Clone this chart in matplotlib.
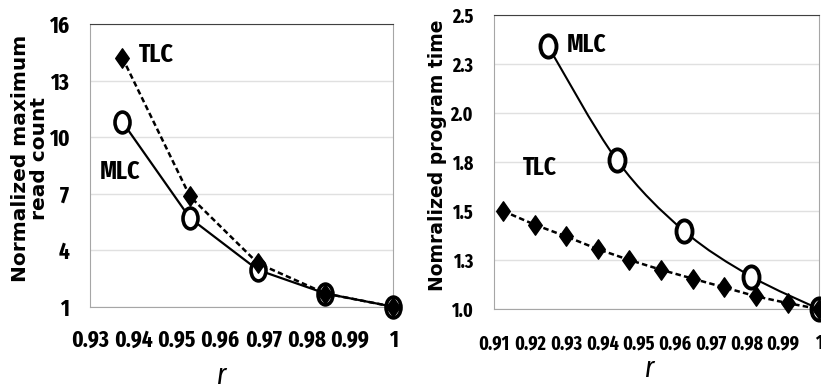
import numpy as np
import matplotlib.pyplot as plt
from matplotlib.path import Path
from matplotlib.patches import PathPatch
from matplotlib import font_manager

# --- data ---
# left panel: normalized maximum read count vs r
r_left = [0.9375, 0.9531, 0.9688, 0.9844, 1.0]
read_tlc = [14.2, 6.85, 3.3, 1.7, 1.0]
read_mlc = [10.8, 5.7, 2.95, 1.7, 1.0]
left_xticks = [0.93, 0.94, 0.95, 0.96, 0.97, 0.98, 0.99, 1.0]
left_xlabels = ["0.93", "0.94", "0.95", "0.96", "0.97", "0.98", "0.99", "1"]
left_yticks = [1, 4, 7, 10, 13, 16]

# right panel: normalized program time vs r
r_tlc = [0.9125, 0.9213, 0.93, 0.9388, 0.9475, 0.9563, 0.965, 0.9738, 0.9825, 0.9913, 1.0]
prog_tlc = [1.5, 1.43, 1.37, 1.305, 1.25, 1.2, 1.155, 1.11, 1.065, 1.03, 1.0]
r_mlc = [0.925, 0.944, 0.9625, 0.9813, 1.0]
prog_mlc = [2.34, 1.76, 1.40, 1.165, 1.0]
right_xticks = [0.91, 0.92, 0.93, 0.94, 0.95, 0.96, 0.97, 0.98, 0.99, 1.0]
right_xlabels = ["0.91", "0.92", "0.93", "0.94", "0.95", "0.96", "0.97", "0.98", "0.99", "1"]
right_yticks = [1.0, 1.25, 1.5, 1.75, 2.0, 2.25, 2.5]
right_ylabels = ["1.0", "1.3", "1.5", "1.8", "2.0", "2.3", "2.5"]

# pick a narrow font that is actually installed
names = {f.name for f in font_manager.fontManager.ttflist}
narrow = "DejaVu Sans"
for cand in ["Fira Sans Extra Condensed", "Roboto Condensed", "Fira Sans Condensed",
             "Open Sans Condensed", "Liberation Sans Narrow", "PT Sans Narrow", "Carlito"]:
    if cand in names:
        narrow = cand
        break

# slightly tall markers (the source picture is squeezed sideways)
circ = Path.unit_circle()
ellipse = Path(circ.vertices * [0.72, 1.0], circ.codes)
diamond = Path([(0, 1), (0.7, 0), (0, -1), (-0.7, 0), (0, 1)],
               [Path.MOVETO, Path.LINETO, Path.LINETO, Path.LINETO, Path.CLOSEPOLY])


def smooth_path(x, y):
    # catmull-rom style bezier through the points, like excel's smoothed line
    pts = np.column_stack([x, y])
    p = np.vstack([pts[0], pts, pts[-1]])
    verts = [tuple(pts[0])]
    codes = [Path.MOVETO]
    for i in range(1, len(p) - 2):
        c1 = p[i] + (p[i + 1] - p[i - 1]) / 6
        c2 = p[i + 1] - (p[i + 2] - p[i]) / 6
        verts += [tuple(c1), tuple(c2), tuple(p[i + 1])]
        codes += [Path.CURVE4] * 3
    return Path(verts, codes)


def style_axes(ax, fs):
    ax.grid(axis="y", color="#e0e0e0", lw=1)
    ax.set_axisbelow(True)
    for s in ["left", "bottom", "right"]:
        ax.spines[s].set_color("#a6a6a6")
    ax.spines["top"].set_color("#404040")
    ax.tick_params(length=0)
    for lab in ax.get_xticklabels() + ax.get_yticklabels():
        lab.set_family(narrow)
        lab.set_weight("bold")
        lab.set_size(fs)


fig = plt.figure(figsize=(8.21, 3.91), dpi=100)

# ---- left ----
ax1 = fig.add_axes([90 / 821, 84.3 / 391, 303 / 821, 282.7 / 391])
ax1.plot(r_left, read_mlc, color="black", lw=1.6, marker=ellipse, ms=15,
         mfc="white", mec="black", mew=2.6, clip_on=False, zorder=3)
ax1.plot(r_left, read_tlc, color="black", lw=1.8, ls=(0, (2.2, 1.3)), marker=diamond,
         ms=14, mfc="black", mec="black", clip_on=False, zorder=4)
ax1.set_xlim(0.93, 1.0)
ax1.set_ylim(1, 16)
ax1.set_xticks(left_xticks)
ax1.set_xticklabels(left_xlabels)
ax1.set_yticks(left_yticks)
ax1.tick_params(axis="x", pad=16)
ax1.tick_params(axis="y", pad=15)
style_axes(ax1, 16.5)
ax1.text(0.9412, 14.35, "TLC", family=narrow, weight="bold", fontsize=18.5, va="center")
ax1.text(0.9323, 8.15, "MLC", family=narrow, weight="bold", fontsize=18.5, va="center")
fig.text(30 / 821, 1 - 158 / 391, "Normalized maximum\nread count", rotation=90,
         ha="center", va="center", fontsize=14.5, weight="bold", multialignment="center",
         linespacing=1.05)
fig.text(222 / 821, 1 - 384 / 391, "r", style="italic", fontsize=21, ha="center",
         va="baseline", family=narrow)

# ---- right ----
ax2 = fig.add_axes([494 / 821, 82 / 391, 325 / 821, 294 / 391])
ax2.add_patch(PathPatch(smooth_path(r_mlc, prog_mlc), fill=False, lw=1.5,
                        ec="black", zorder=2))
ax2.plot(r_mlc, prog_mlc, ls="none", marker=ellipse, ms=16, mfc="white",
         mec="black", mew=2.8, clip_on=False, zorder=3)
ax2.plot(r_tlc, prog_tlc, color="black", lw=1.8, ls=(0, (2.2, 1.3)), marker=diamond,
         ms=14, mfc="black", mec="black", clip_on=False, zorder=4)
ax2.set_xlim(0.91, 1.0)
ax2.set_ylim(1.0, 2.5)
ax2.set_xticks(right_xticks)
ax2.set_xticklabels(right_xlabels)
ax2.set_yticks(right_yticks)
ax2.set_yticklabels(right_ylabels)
ax2.tick_params(axis="x", pad=18)
ax2.tick_params(axis="y", pad=15)
style_axes(ax2, 14)
ax2.text(0.9302, 2.35, "MLC", family=narrow, weight="bold", fontsize=18, va="center")
ax2.text(0.918, 1.72, "TLC", family=narrow, weight="bold", fontsize=18, va="center")
fig.text(437 / 821, 1 - 155 / 391, "Nomralized program time", rotation=90,
         ha="center", va="center", fontsize=13.5, weight="bold")
fig.text(650 / 821, 1 - 377 / 391, "r", style="italic", fontsize=21, ha="center",
         va="baseline", family=narrow)

fig.savefig("out.png", dpi=100)
